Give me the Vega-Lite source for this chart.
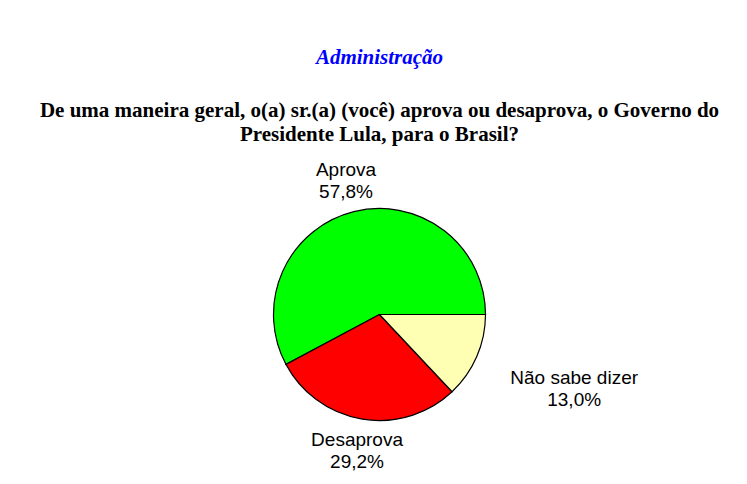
{
  "$schema": "https://vega.github.io/schema/vega-lite/v6.json",
  "description": "Aprovação do Governo do Presidente Lula, gráfico de pizza.",
  "width": 747,
  "height": 484,
  "autosize": {"type": "fit", "contains": "padding"},
  "padding": {"top": 47, "left": 12, "right": 0, "bottom": 10},
  "background": "white",
  "title": {
    "text": "Administração",
    "subtitle": [
      "De uma maneira geral, o(a) sr.(a) (você) aprova ou desaprova, o Governo do",
      "Presidente Lula, para o Brasil?"
    ],
    "anchor": "middle",
    "frame": "group",
    "font": "Liberation Serif",
    "fontSize": 21,
    "fontStyle": "italic",
    "fontWeight": "bold",
    "color": "#0000FF",
    "subtitleFont": "Liberation Serif",
    "subtitleFontSize": 21,
    "subtitleFontWeight": "bold",
    "subtitleColor": "black",
    "subtitlePadding": 32,
    "subtitleLineHeight": 24,
    "offset": 10
  },
  "data": {
    "values": [
      {"categoria": "Aprova", "pct": 57.8, "rotulo": "Aprova\n57,8%"},
      {"categoria": "Desaprova", "pct": 29.2, "rotulo": "Desaprova\n29,2%"},
      {"categoria": "Não sabe dizer", "pct": 13.0, "rotulo": "Não sabe dizer\n13,0%"}
    ]
  },
  "encoding": {
    "theta": {
      "field": "pct",
      "type": "quantitative",
      "stack": true,
      "scale": {"range": [1.5708, 7.854]}
    },
    "order": {"field": "categoria", "sort": "descending"},
    "color": {
      "field": "categoria",
      "type": "nominal",
      "legend": null,
      "scale": {
        "domain": ["Aprova", "Desaprova", "Não sabe dizer"],
        "range": ["#00FF00", "#FF0000", "#FFFFB3"]
      }
    }
  },
  "layer": [
    {
      "mark": {"type": "arc", "outerRadius": 106, "stroke": "black", "strokeWidth": 1.2}
    },
    {
      "mark": {
        "type": "text",
        "radius": 138,
        "lineBreak": "\n",
        "font": "Liberation Sans",
        "fontSize": 19,
        "lineHeight": 22,
        "dx": {"expr": "datum.categoria === 'Não sabe dizer' ? 68 : 0"},
        "dy": {"expr": "datum.categoria === 'Não sabe dizer' ? 9 : -11"}
      },
      "encoding": {
        "text": {"field": "rotulo"},
        "color": {"value": "black"}
      }
    }
  ]
}
